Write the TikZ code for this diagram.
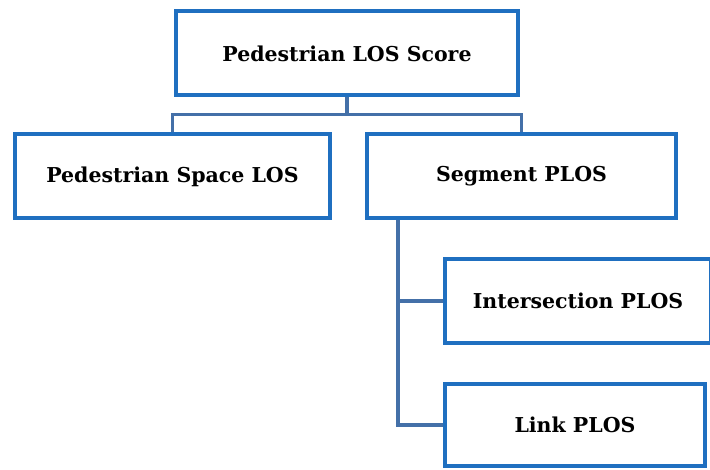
\documentclass[tikz,border=0pt]{standalone}
\usepackage{fontspec}
\setmainfont{DejaVu Serif}
\usepackage{tikz}
\usetikzlibrary{positioning,calc}
\definecolor{cBoxBorder}{HTML}{1F6FC0}
\definecolor{cLink}{HTML}{4470A8}

\begin{document}
\begin{tikzpicture}[
  x=1pt, y=1pt,
  every node/.style={font=\fontsize{20.5}{24}\selectfont\bfseries},
  plosbox/.style={draw=cBoxBorder, fill=white, line width=4pt,
                  minimum height=84pt, align=center, inner sep=0pt},
  conn/.style={draw=cLink, line width=3.5pt},
]
  \clip (0,0) rectangle (710,470);
  \fill[white] (0,0) rectangle (710,470);

  \node[plosbox, minimum width=342pt] (score) at (347,416.5) {Pedestrian LOS Score};
  \node[plosbox, minimum width=315pt] (space) at (172.5,293.5) {Pedestrian Space LOS};
  \node[plosbox, minimum width=309pt] (seg)   at (521.5,293.5) {Segment PLOS};
  \node[plosbox, minimum width=266pt] (inter) at (578,169) {Intersection PLOS};
  \node[plosbox, minimum width=260pt, minimum height=82pt] (link) at (575,45) {Link PLOS};

  \coordinate (bar)  at ($(score.south)+(0,-17)$);
  \coordinate (trunk) at ($(seg.south west)+(33,0)$);

  \draw[conn] (score.south) -- (bar) -| (space.north);
  \draw[conn] (bar) -| (seg.north);
  \draw[conn] (trunk) |- (inter.west);
  \draw[conn] (trunk) |- (link.west);
\end{tikzpicture}
\end{document}
